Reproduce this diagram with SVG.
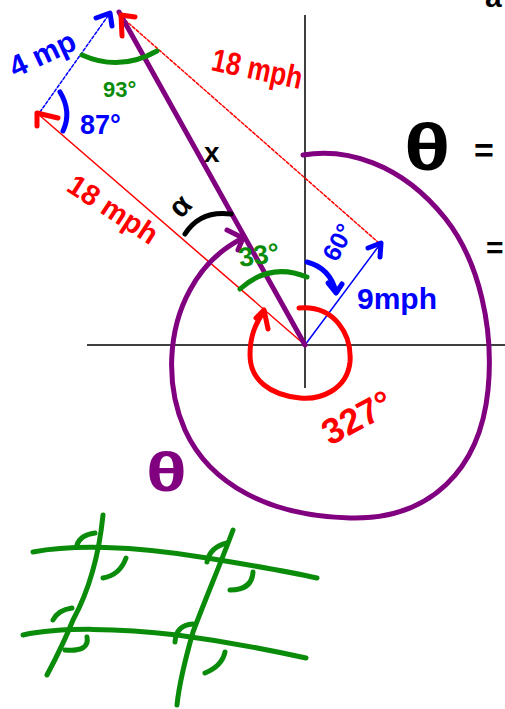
<svg xmlns="http://www.w3.org/2000/svg" width="505" height="709" viewBox="0 0 505 709">
<style>
.ax{stroke:#000;stroke-width:1.5;fill:none}
.thin{stroke-width:1.5;fill:none;stroke-linecap:round}
.pen{fill:none;stroke-width:5;stroke-linecap:round;stroke-linejoin:round}
.red{stroke:#ff0000}.blue{stroke:#0000ff}.green{stroke:#0a8c0a}.purple{stroke:#800080}.black{stroke:#000}
.t{font-family:"Liberation Sans",Arial,sans-serif;font-weight:bold}
</style>
<rect width="505" height="709" fill="#fff"/>
<g id="axes">
<line class="ax" x1="305" y1="15" x2="305" y2="388"/>
<line class="ax" x1="87" y1="345" x2="505" y2="345"/>
</g>
<g id="connectors">
<line class="thin red" x1="305" y1="345" x2="38" y2="114"/>
<line class="thin red" x1="125" y1="20" x2="379" y2="243" stroke-dasharray="3,2"/>
<line class="thin blue" x1="40" y1="112" x2="110" y2="13" stroke-dasharray="3,2"/>
<line class="thin blue" x1="305" y1="345" x2="381" y2="243"/>
<line class="pen purple" x1="305" y1="345" x2="119" y2="12"/>
<path class="pen red" d="M37 126 L37 113 L58 118"/>
<path class="pen red" d="M122 36 L121 15 L135 17"/>
<path class="pen blue" d="M96 18 L110 13 L112 26"/>
<path class="pen blue" d="M368 248 L381 243 L380 257" stroke-width="3"/>
<path class="pen green" d="M82 55 Q120 72 157 51"/>
<path class="pen blue" d="M60 92 Q72 112 63 131"/>
<path class="pen black" d="M185 234 Q200 210 231 214"/>
<path class="pen purple" d="M303 155 C345 148 400 162 445 218 C480 262 494 330 488 390 C480 470 430 520 350 518 C270 516 210 485 185 430 C165 385 168 330 190 290 C205 262 225 247 243 238"/>
<path class="pen purple" d="M227 230 L243 238 L238 250"/>
<path class="pen green" d="M240 289 Q270 262 307 277"/>
<path class="pen blue" d="M307 262 Q330 268 336 292"/>
<path class="pen blue" d="M328 283 L336 293 L342 284" stroke-width="4"/>
<path class="pen red" d="M299 308 C335 305 352 335 350 362 C347 390 320 400 300 398 C270 395 250 380 250 355 C250 335 256 323 264 311"/>
<path class="pen red" d="M256 318 L264 310 L268 329"/>
</g>
<g id="labels">
<text class="t" x="15" y="78" font-size="30" fill="#0000ff" transform="rotate(-25 15 78)">4 mp</text>
<text class="t" x="103" y="97" font-size="22" fill="#0a8c0a">93°</text>
<text class="t" x="80" y="134" font-size="27" fill="#0000ff">87°</text>
<text class="t" x="210" y="70" font-size="32" fill="#ff0000" transform="rotate(12 210 70)" textLength="92" lengthAdjust="spacingAndGlyphs">18 mph</text>
<text class="t" x="65" y="190" font-size="29" fill="#ff0000" transform="rotate(33 65 190)">18 mph</text>
<text class="t" x="204" y="162" font-size="28" fill="#000">x</text>
<text class="t" x="170" y="214" font-size="30" fill="#000" transform="rotate(-45 182 204)">α</text>
<text class="t" x="240" y="267" font-size="27" fill="#0a8c0a" transform="rotate(-8 240 267)">33°</text>
<text class="t" x="320" y="255" font-size="25" fill="#0000ff" transform="rotate(-62 335 245)">60°</text>
<text class="t" x="357" y="309" font-size="30" fill="#0000ff">9mph</text>
<text class="t" x="330" y="446" font-size="36" fill="#ff0000" transform="rotate(-28 330 446)">327°</text>
<text class="t" x="146" y="491" font-size="56" fill="#800080" transform="translate(146 491) scale(1.35 1) translate(-146 -491)">θ</text>
<text class="t" x="404" y="170" font-size="66" fill="#000" transform="translate(404 170) scale(1.3 1) translate(-404 -170)">θ</text>
<text class="t" x="474" y="162" font-size="34" fill="#000">=</text>
<text class="t" x="486" y="258" font-size="30" fill="#000">=</text>
<text class="t" x="485" y="7" font-size="30" fill="#000">a</text>
</g>
<g id="grid">
<path class="pen green" d="M33 552 C70 545 130 545 207 558 C250 565 290 572 317 578"/>
<path class="pen green" d="M23 635 C60 627 120 628 177 635 C230 642 270 650 306 658"/>
<path class="pen green" d="M103 515 C100 545 92 585 73 620 C63 645 55 660 47 675"/>
<path class="pen green" d="M233 530 C222 560 205 600 193 632 C185 660 179 685 177 705"/>
<path class="pen green" d="M77 545 Q80 535 95 533"/>
<path class="pen green" d="M103 578 Q120 575 126 558"/>
<path class="pen green" d="M207 562 Q210 547 227 543"/>
<path class="pen green" d="M230 590 Q252 590 253 572"/>
<path class="pen green" d="M53 620 Q58 610 72 608"/>
<path class="pen green" d="M65 650 Q90 652 87 637"/>
<path class="pen green" d="M175 642 Q176 625 193 624"/>
<path class="pen green" d="M205 673 Q222 666 225 652"/>
</g>
</svg>
